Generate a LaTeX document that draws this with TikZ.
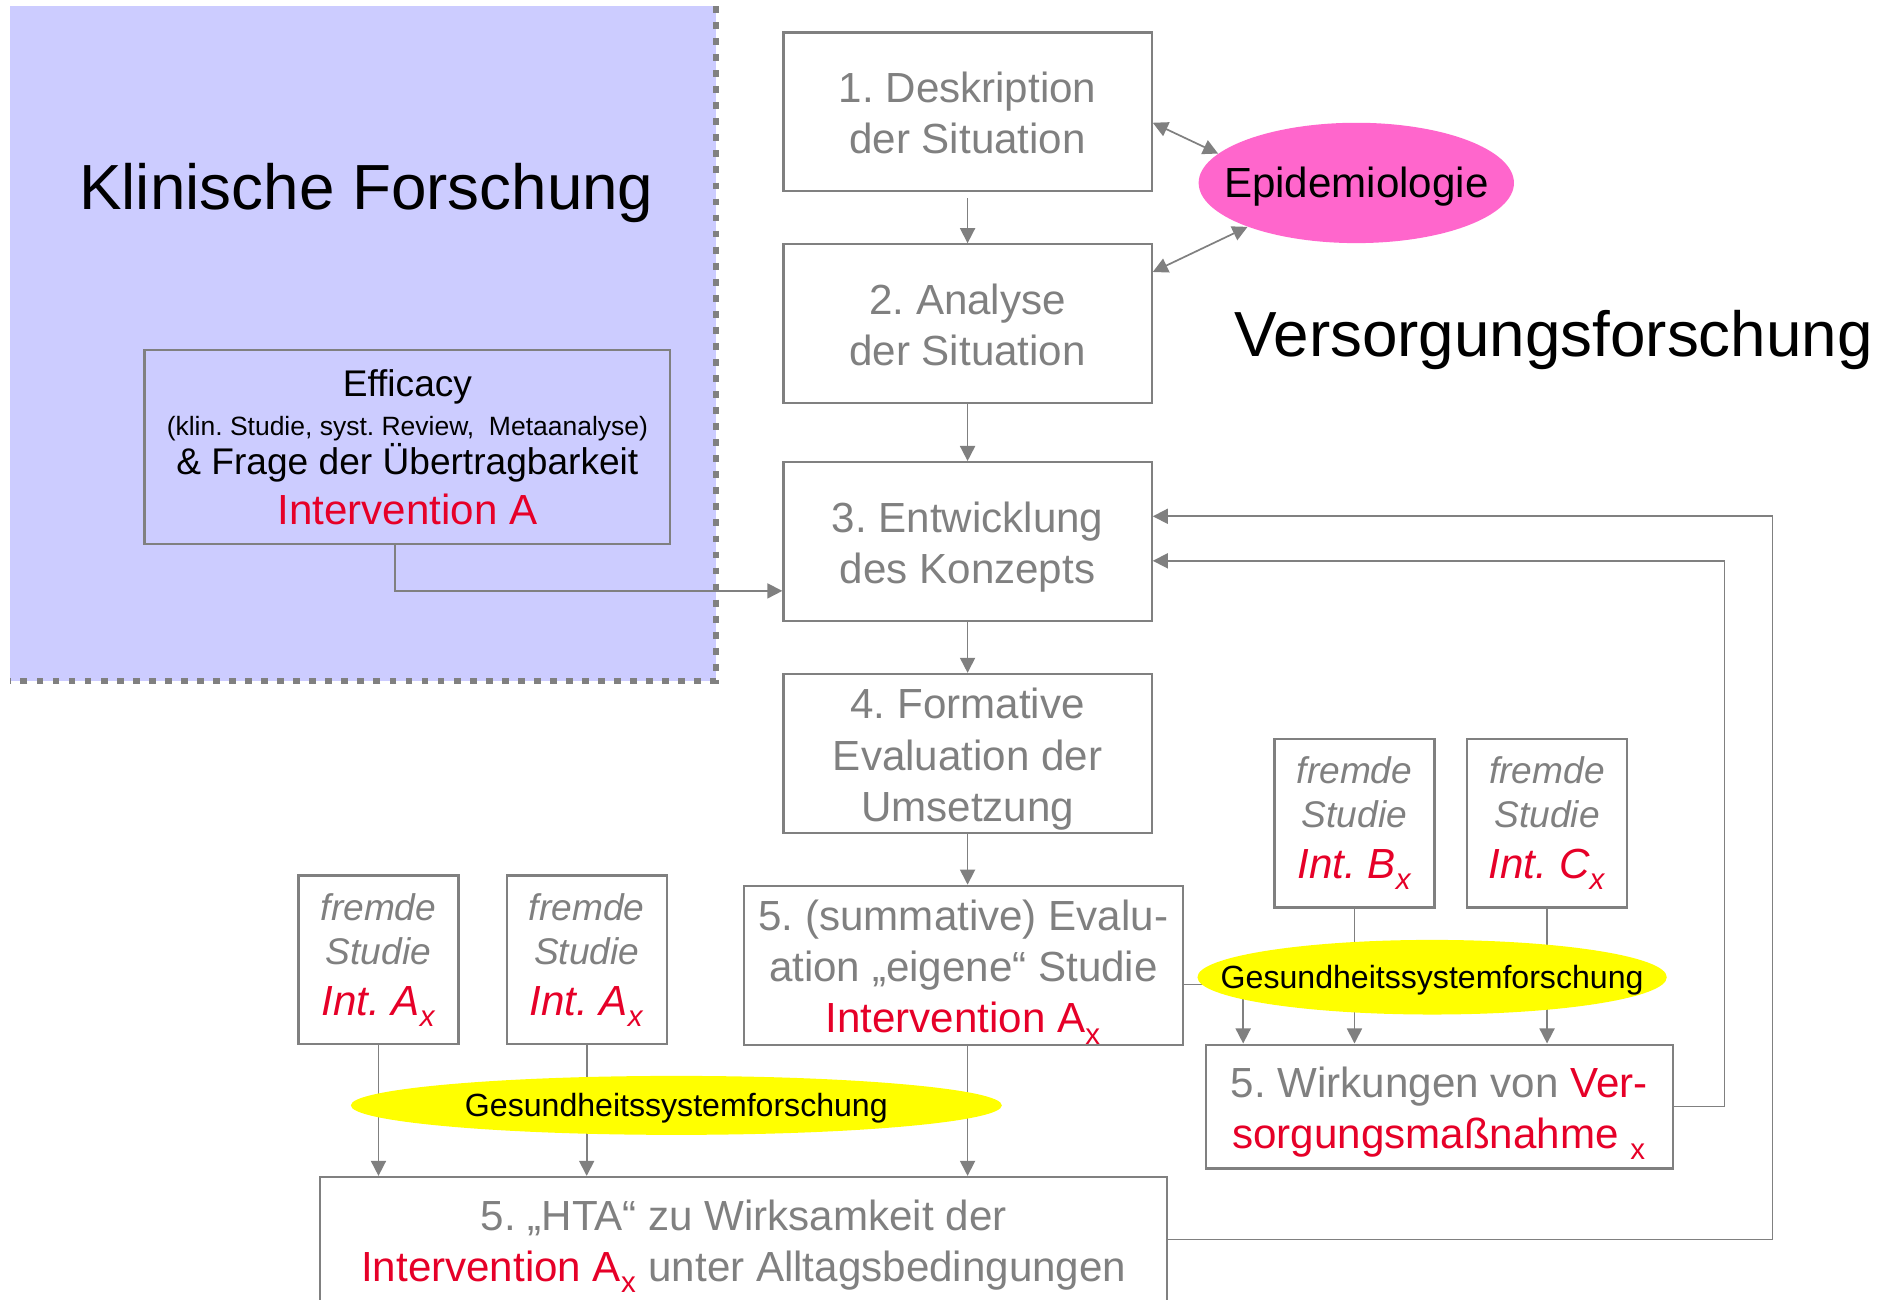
\documentclass[tikz,border=0pt]{standalone}
\usepackage{fontspec}
\setmainfont{Liberation Sans}
\usetikzlibrary{arrows.meta,shapes.geometric}
\definecolor{lila}{RGB}{204,204,255}
\definecolor{grau}{RGB}{128,128,128}
\definecolor{rot}{RGB}{230,0,40}
\definecolor{epipink}{RGB}{255,102,204}
\definecolor{gelb}{RGB}{255,255,0}
\newcommand\fsz[2]{\fontsize{#1}{#2}\selectfont}
\newcommand\sbx[1]{\raisebox{-0.12em}{\textsubscript{#1}}}
\newcommand\lowr[1]{\rule{0pt}{#1}}
\frenchspacing
\begin{document}
\begin{tikzpicture}[x=0.6pt,y=-0.6pt,
  box/.style={draw=grau,line width=1.1pt,rectangle,inner sep=0pt,align=center,text=grau,font=\frenchspacing\fsz{21}{25.5}},
  mainbox/.style={box,minimum width=183.6pt,minimum height=79.2pt},
  studbox/.style={box,minimum width=79.8pt,minimum height=84pt,font=\frenchspacing\fsz{18.5}{22.2}\itshape},
  tip/.tip={Triangle[length=7.5pt,width=7.5pt]},
  conn/.style={draw=grau,line width=0.85pt,-tip},
  dconn/.style={draw=grau,line width=0.85pt,tip-tip},
  blob/.style={ellipse,inner sep=0pt,draw=none},
  blobtext/.style={anchor=base,inner sep=0pt},
  bigtitle/.style={anchor=base,font=\fsz{31.8}{38}}]
\clip (0,0) rectangle (1568,1080);
\fill[white] (0,0) rectangle (1568,1080);
% Klinische Forschung area
\fill[lila] (8,5) rectangle (595,566);
\draw[grau,line width=3.2pt,dash pattern=on 3.4pt off 4.6pt] (595,5) -- (595,566) -- (8,566);
\node[bigtitle] (kf) at (304.5,174) {Klinische Forschung};
\node[bigtitle] (vf) at (1291,296) {Versorgungsforschung};
\node[box,text=black,minimum width=262.2pt,minimum height=96.6pt,font=\frenchspacing\fsz{18.5}{19.5}] (eff) at (338.5,371.5)
  {Efficacy\\{\fsz{13.2}{15}(klin. Studie, syst. Review,\ \ Metaanalyse)}\\\& Frage der Übertragbarkeit\\[5pt]{\color{rot}\fsz{21}{25}Intervention A}};
% main column
\node[mainbox] (b1) at (804,93) {\lowr{16.5pt}1. Deskription\\der Situation};
\node[mainbox] (b2) at (804,269) {\lowr{16.5pt}2. Analyse\\der Situation};
\node[mainbox] (b3) at (804,450) {\lowr{21pt}3. Entwicklung\\des Konzepts};
\node[mainbox] (b4) at (804,626) {\lowr{21pt}4. Formative\\Evaluation der\\Umsetzung};
\node[box,minimum width=219pt,minimum height=79.2pt] (b5) at (800.5,802)
  {\lowr{22pt}5. (summative) Evalu-\\ation „eigene“ Studie\\{\color{rot}Intervention A\sbx{x}}};
\node[box,minimum width=422.4pt,minimum height=62.4pt] (hta) at (618,1030)
  {\lowr{22pt}5. „HTA“ zu Wirksamkeit der\\{\color{rot}Intervention A\sbx{x}} unter Alltagsbedingungen};
\node[box,minimum width=232.8pt,minimum height=61.8pt] (wirk) at (1196,919.5)
  {\lowr{22pt}5. Wirkungen von {\color{rot}Ver-}\\{\color{rot}sorgungsmaßnahme \sbx{x}}};
% fremde Studien
\node[studbox] (sa1) at (314.5,797.5) {fremde\\Studie\\[3pt]{\color{rot}\fsz{21}{25}Int. A\sbx{x}}};
\node[studbox] (sa2) at (487.5,797.5) {fremde\\Studie\\[3pt]{\color{rot}\fsz{21}{25}Int. A\sbx{x}}};
\node[studbox] (sb) at (1125.5,684) {fremde\\Studie\\[3pt]{\color{rot}\fsz{21}{25}Int. B\sbx{x}}};
\node[studbox] (sc) at (1285.5,684) {fremde\\Studie\\[3pt]{\color{rot}\fsz{21}{25}Int. C\sbx{x}}};
% Epidemiologie
\node[blob,fill=epipink,minimum width=157.2pt,minimum height=60pt] (epi) at (1127,152) {};
\node[blobtext,font=\fsz{21}{25}] (epit) at (1127,164.5) {Epidemiologie};
% connectors
\draw[conn,shorten <=3pt] (b1) -- (b2);
\draw[conn] (b2) -- (b3);
\draw[conn] (b3) -- (b4);
\draw[conn] (b4.south) -- (b5.north -| b4.south);
\draw[conn] (b5.south -| b4.south) -- (hta.north -| b4.south);
\draw[conn] (sa1.south) -- (sa1.south |- hta.north);
\draw[conn] (sa2.south) -- (sa2.south |- hta.north);
\draw[conn] (sb.south) -- (sb.south |- wirk.north);
\draw[conn] (sc.south) -- (sc.south |- wirk.north);
\draw[conn] (b5.east |- 0,818) -| (wirk.north -| 1033,0);
\draw[conn] (eff.south -| 328,0) |- (b3.west |- 0,491);
\draw[conn] (wirk.east) -- ++(42,0) |- (b3.east |- 0,466);
\draw[conn] (hta.east) -- ++(502,0) |- (b3.east |- 0,429);
\draw[dconn] (b1.east |- 0,102) -- (epi.168);
\draw[dconn] (b2.east |- 0,226) -- (epi.202);
% Gesundheitssystemforschung
\node[blob,fill=gelb,minimum width=324.6pt,minimum height=29.4pt] (gs1) at (562,918.5) {};
\node[blobtext,font=\fsz{16}{19}] (gs1t) at (562,927.5) {Gesundheitssystemforschung};
\node[blob,fill=gelb,minimum width=234pt,minimum height=37.2pt] (gs2) at (1190,812) {};
\node[blobtext,font=\fsz{16}{19}] (gs2t) at (1190,821.5) {Gesundheitssystemforschung};
\end{tikzpicture}
\end{document}
